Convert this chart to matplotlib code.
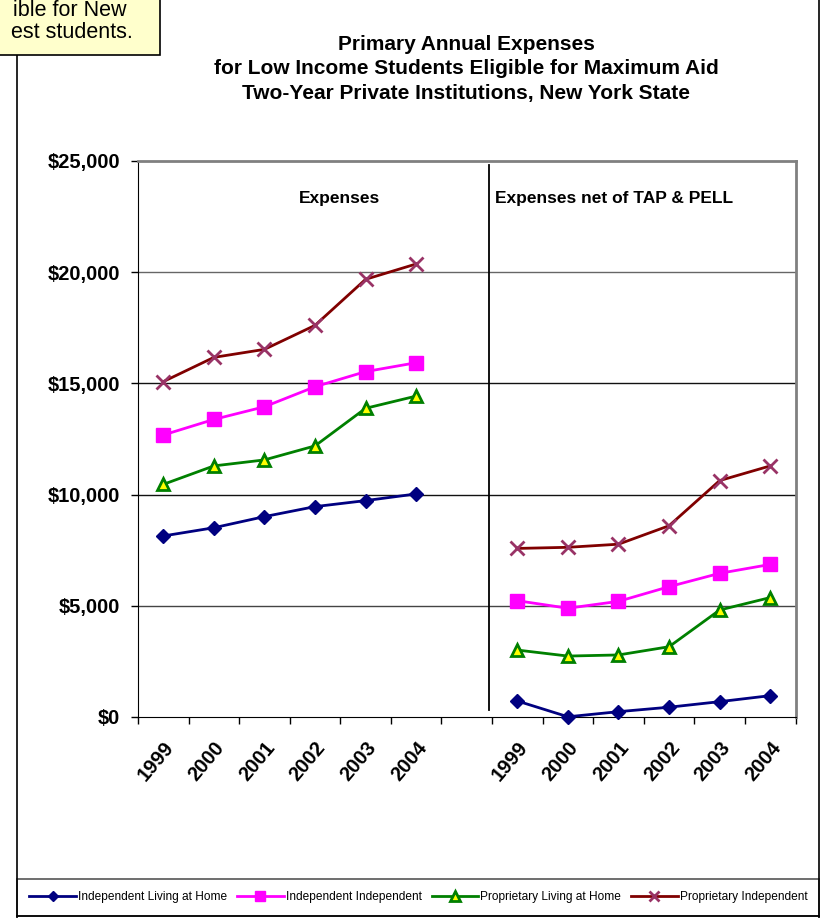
import numpy as np
import matplotlib
matplotlib.use("Agg")
import matplotlib.pyplot as plt
from matplotlib.lines import Line2D
from matplotlib.patches import Rectangle

plt.rcParams['font.family'] = ['Liberation Sans', 'DejaVu Sans']

years = ['1999', '2000', '2001', '2002', '2003', '2004']
series = ['Independent Living at Home', 'Independent Independent',
          'Proprietary Living at Home', 'Proprietary Independent']

# Expenses
exp_ind_home = [8140, 8510, 9010, 9460, 9730, 10030]
exp_ind_ind = [12680, 13380, 13950, 14850, 15530, 15930]
exp_prop_home = [10460, 11290, 11560, 12190, 13880, 14430]
exp_prop_ind = [15080, 16170, 16530, 17610, 19680, 20370]

# Expenses net of TAP & PELL
net_ind_home = [720, 10, 240, 440, 690, 960]
net_ind_ind = [5230, 4890, 5200, 5860, 6460, 6860]
net_prop_home = [3010, 2740, 2790, 3160, 4810, 5370]
net_prop_ind = [7580, 7630, 7770, 8600, 10630, 11290]

styles = [
    dict(color='#000080', marker='D', ms=7, mfc='#000080', mec='#000080', mew=1),
    dict(color='#FF00FF', marker='s', ms=10, mfc='#FF00FF', mec='#FF00FF', mew=1),
    dict(color='#008000', marker='^', ms=9, mfc='#FFFF00', mec='#008000', mew=2),
    dict(color='#800000', marker='x', ms=9.5, mfc='none', mec='#993366', mew=2),
]

fig = plt.figure(figsize=(8.22, 9.18), dpi=100)
ax = fig.add_axes([138 / 822, 1 - 717 / 918, (795.5 - 138) / 822, (717 - 161) / 918])

x_left = np.arange(6)
x_right = np.arange(7, 13)
left_data = [exp_ind_home, exp_ind_ind, exp_prop_home, exp_prop_ind]
right_data = [net_ind_home, net_ind_ind, net_prop_home, net_prop_ind]

for d, st in zip(left_data, styles):
    ax.plot(x_left, d, lw=2, zorder=3, clip_on=False, **st)
for d, st in zip(right_data, styles):
    ax.plot(x_right, d, lw=2, zorder=3, clip_on=False, **st)

ax.set_xlim(-0.5, 12.5)
ax.set_ylim(0, 25000)

for v, c in zip([5000, 10000, 15000, 20000], ['#444444', '#111111', '#111111', '#666666']):
    ax.axhline(v, color=c, lw=1, zorder=1)

ax.set_yticks(np.arange(0, 25001, 5000))
ax.set_yticklabels(['$0', '$5,000', '$10,000', '$15,000', '$20,000', '$25,000'],
                   fontsize=14.5, fontweight='bold')
ax.tick_params(axis='y', direction='out', length=5, width=1, pad=8)

ax.set_xticks(np.arange(-0.5, 13, 1))
ax.set_xticklabels([])
ax.tick_params(axis='x', which='major', direction='out', length=5, width=1)
ax.set_xticks(list(x_left) + list(x_right), minor=True)
ax.set_xticklabels(years + years, minor=True, rotation=50, ha='right',
                   rotation_mode='anchor', fontsize=14.5, fontweight='bold')
ax.tick_params(axis='x', which='minor', length=0, pad=15)

ax.spines['left'].set_color('black')
ax.spines['bottom'].set_color('black')
ax.spines['top'].set_color('#808080')
ax.spines['right'].set_color('#808080')
ax.spines['top'].set_linewidth(2)
ax.spines['right'].set_linewidth(2)

# divider between the two panels
ax.plot([6.44, 6.44], [300, 24800], color='black', lw=1.3, zorder=2)

ax.text(3.48, 23300, 'Expenses', ha='center', va='center', fontsize=12.5, fontweight='bold')
ax.text(6.55, 23300, 'Expenses net of TAP & PELL', ha='left', va='center',
        fontsize=12.5, fontweight='bold')

fig.text(466 / 822, 1 - 69 / 918,
         'Primary Annual Expenses\nfor Low Income Students Eligible for Maximum Aid\n'
         'Two-Year Private Institutions, New York State',
         ha='center', va='center', fontsize=15, fontweight='bold', linespacing=1.4)

# chart frame
fig.add_artist(Line2D([17 / 822, 17 / 822], [0, 1], color='black', lw=1.2))
fig.add_artist(Line2D([819 / 822, 819 / 822], [0, 1], color='black', lw=1.2))

# legend
handles = [Line2D([], [], lw=2, **st) for st in styles]
for h in handles:
    h.set_markersize(h.get_markersize() * 0.75)
leg = fig.legend(handles, series, loc='center', ncol=4,
                 bbox_to_anchor=(418.5 / 822, 1 - 897 / 918), fontsize=8.6,
                 frameon=False, handlelength=3.9, handletextpad=0.2,
                 columnspacing=0.8)
fig.add_artist(Rectangle((17 / 822, 1 - 915.5 / 918), (819 - 17) / 822, (915.5 - 879) / 918,
                         transform=fig.transFigure, fill=False, ec='#555555', lw=1.2))
fig.add_artist(Line2D([17 / 822, 819 / 822], [1 - 915.5 / 918, 1 - 915.5 / 918],
                      color='black', lw=1.2))

# callout box cut at the top-left
fig.add_artist(Rectangle((-0.01, 1 - 55 / 918), 168 / 822, 70 / 918,
                         transform=fig.transFigure, fc='#FFFFCC', ec='black', lw=1.2,
                         zorder=5))
fig.text(126 / 822, 1 - 11 / 918, 'ible for New', ha='right', va='center',
         fontsize=15.5, zorder=6)
fig.text(133 / 822, 1 - 32 / 918, 'est students.', ha='right', va='center',
         fontsize=15.5, zorder=6)

fig.savefig('out.png', dpi=100)
